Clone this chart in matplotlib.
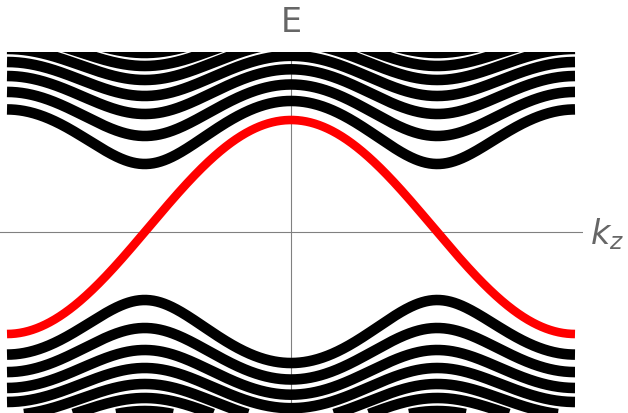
import numpy as np
import matplotlib.pyplot as plt

# band parameters (energy unit ~ 100 px)
M0 = 0.05          # constant part of the mass term
M1 = 1.07          # cos(kz) amplitude of the mass term
levels = [0.68, 0.96, 1.18, 1.36, 1.52, 1.66, 1.79, 1.92, 2.03]  # gaps of the upper/lower bands at kz = +-pi/2

kz = np.linspace(-np.pi, np.pi, 800)
mass = M0 + M1 * np.cos(kz)

fig = plt.figure(figsize=(6.28, 4.13), dpi=100)
ax = fig.add_axes([0.0, 0.0, 583 / 628, 361 / 413])

for q in levels:
    e = np.sqrt(mass**2 + q**2)
    ax.plot(kz, e, color='black', lw=7.6, solid_capstyle='butt')
    ax.plot(kz, -e, color='black', lw=7.6, solid_capstyle='butt')

# chiral level
ax.plot(kz, mass, color='#ff0000', lw=6.2, solid_capstyle='butt')

ax.axhline(0, color='#808080', lw=0.8, zorder=0)
ax.axvline(0, color='#808080', lw=0.8, zorder=0)

ax.set_xlim(-np.pi - 7 / 90.4, np.pi + 8 / 90.4)
ax.set_ylim(-1.81, 1.80)
for s in ax.spines.values():
    s.set_visible(False)
ax.set_xticks([])
ax.set_yticks([])

fig.text(291 / 628, 1 - 22 / 413, 'E', ha='center', va='center', fontsize=24, color='#666666')
fig.text(590 / 628, 1 - 234 / 413, r'$k_z$', ha='left', va='center', fontsize=24, color='#666666')

fig.savefig('out.png', dpi=100)
